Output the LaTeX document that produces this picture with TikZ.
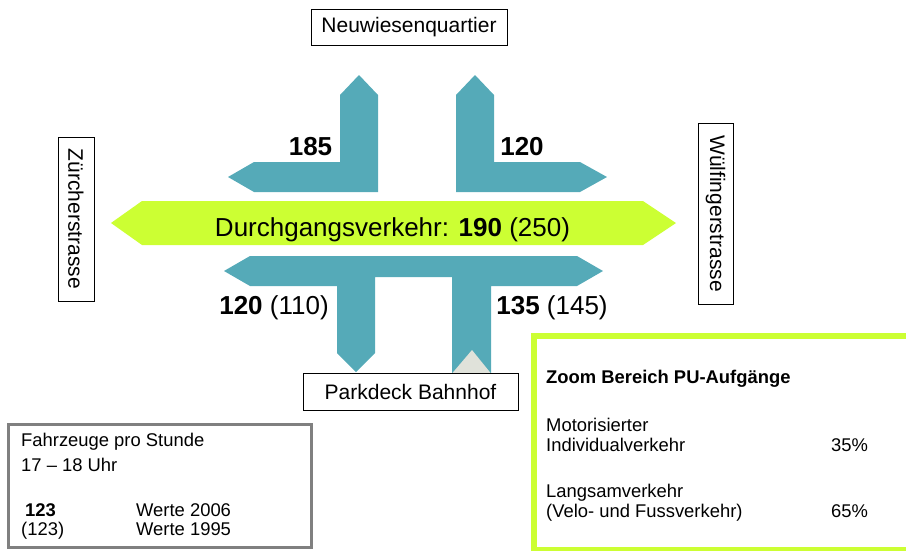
\documentclass[tikz,border=0pt]{standalone}
\usepackage{fontspec}
\setmainfont{Liberation Sans}
\definecolor{flowteal}{HTML}{55AAB8}
\definecolor{limegreen}{HTML}{CCFF33}
\definecolor{notchgray}{HTML}{E0E2DA}
\definecolor{legendgray}{HTML}{808080}
\begin{document}
\begin{tikzpicture}[x=1pt,y=-1pt,
  streetbox/.style={draw=black, line width=0.9pt, fill=white, inner sep=0pt, font=\fontsize{21}{25}\selectfont},
  flowshape/.style={fill=flowteal},
  bignum/.style={inner sep=0pt, anchor=base, font=\fontsize{26}{30}\selectfont},
  smalltext/.style={inner sep=0pt, anchor=base west, font=\fontsize{18.4}{21}\selectfont}]
\useasboundingbox (0,0) rectangle (906,550);

% upper left L arrow
\fill[flowshape] (359,75) -- (378,95) -- (378,192) -- (254,192) -- (228,177) -- (254,162) -- (340,162) -- (340,95) -- cycle;
% upper right L arrow
\fill[flowshape] (475,75) -- (494,95) -- (494,162) -- (580,162) -- (607,177) -- (580,192) -- (456,192) -- (456,95) -- cycle;
% bottom T shape
\fill[flowshape] (224,271) -- (250,256) -- (577,256) -- (603,271) -- (577,286) -- (491,286) -- (491,373) -- (452,373) -- (452,277) -- (375,277) -- (375,353) -- (356,372) -- (337,353) -- (337,286) -- (250,286) -- cycle;
% notch triangle
\fill[notchgray] (452,373.5) -- (472,350) -- (491,373.5) -- cycle;

% through traffic bar
\fill[limegreen] (111,223) -- (142,201) -- (643,201) -- (676,223) -- (643,245) -- (142,245) -- cycle;
\node[bignum] (durch) at (392.5,236.7) {Durchgangsverkehr: \textbf{190} (250)};

% numbers
\node[bignum] (n185) at (310.5,155) {\textbf{185}};
\node[bignum] (n120a) at (522,155) {\textbf{120}};
\node[bignum] (n120b) at (274,314) {\textbf{120} (110)};
\node[bignum] (n135) at (552,314) {\textbf{135} (145)};

% street boxes
\node[streetbox, minimum width=196pt, minimum height=36pt] (neu) at (409,27) {Neuwiesenquartier};
\node[streetbox, minimum width=215pt, minimum height=37pt] (park) at (410.5,391.5) {Parkdeck Bahnhof};
\node[streetbox, rotate=-90, minimum width=164pt, minimum height=36pt] (zur) at (76,219) {Zürcherstrasse};
\node[streetbox, rotate=-90, minimum width=181pt, minimum height=35pt] (wul) at (715.5,213.5) {Wülfingerstrasse};

% legend box
\draw[legendgray, line width=3.5pt] (8.5,424.5) rectangle (311.5,547.5);
\node[smalltext] (l1) at (21,446.7) {Fahrzeuge pro Stunde};
\node[smalltext] (l2) at (21,471.7) {17 – 18 Uhr};
\node[smalltext] (l3) at (25,516) {\textbf{123}};
\node[smalltext] (l4) at (136,516) {Werte 2006};
\node[smalltext] (l5) at (21,535) {(123)};
\node[smalltext] (l6) at (136,535) {Werte 1995};

% zoom box
\draw[limegreen, line width=6pt] (534,335.5) rectangle (915,550);
\node[smalltext] (z1) at (546,383) {\textbf{Zoom Bereich PU-Aufgänge}};
\node[smalltext] (z2) at (546,431) {Motorisierter};
\node[smalltext] (z3) at (546,451) {Individualverkehr};
\node[smalltext] (z4) at (831,451) {35\%};
\node[smalltext] (z5) at (546,497) {Langsamverkehr};
\node[smalltext] (z6) at (546,517) {(Velo- und Fussverkehr)};
\node[smalltext] (z7) at (831,517) {65\%};
\end{tikzpicture}
\end{document}
